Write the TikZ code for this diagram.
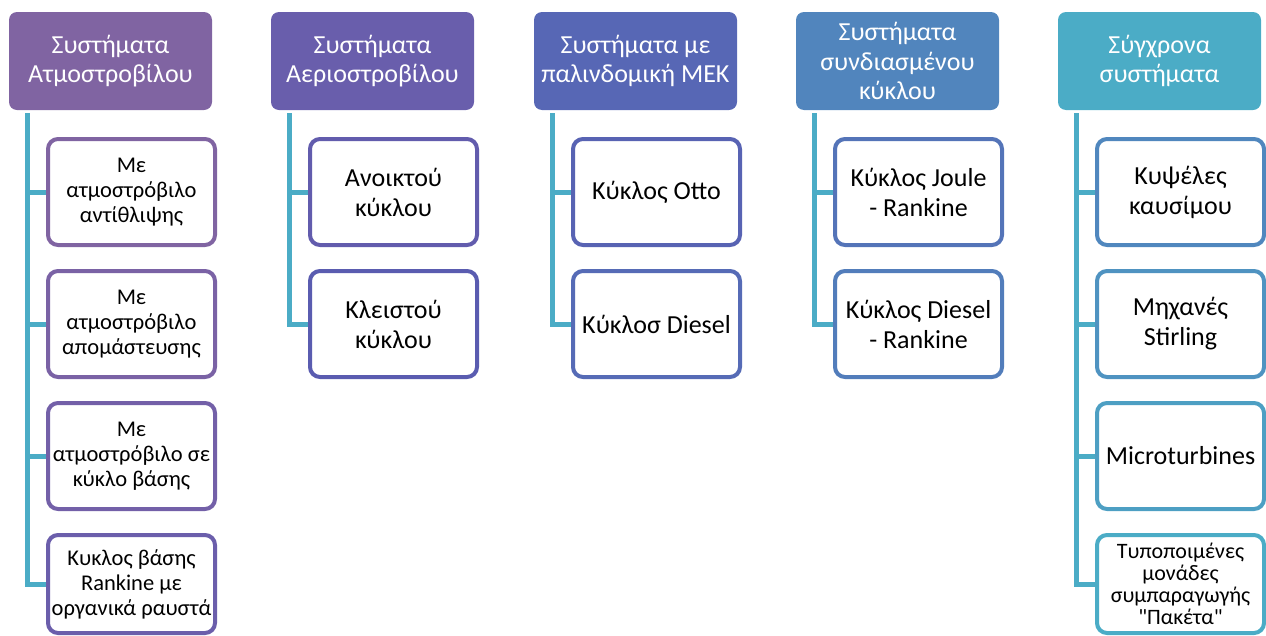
\documentclass[tikz,border=0pt]{standalone}
\usepackage{fontspec}
\setmainfont{Carlito}
\newfontfamily\plainfont{Carlito}[Ligatures=TeXOff]
\definecolor{h0}{HTML}{8064A2}
\definecolor{h1}{HTML}{695EAC}
\definecolor{h2}{HTML}{5767B5}
\definecolor{h3}{HTML}{5185BD}
\definecolor{h4}{HTML}{4BACC6}
\definecolor{k0}{HTML}{8064A2}
\definecolor{k1}{HTML}{7A62A5}
\definecolor{k2}{HTML}{7360A8}
\definecolor{k3}{HTML}{6B5EAB}
\definecolor{k4}{HTML}{625CAD}
\definecolor{k5}{HTML}{5A5CB0}
\definecolor{k6}{HTML}{5863B3}
\definecolor{k7}{HTML}{566BB6}
\definecolor{k8}{HTML}{5474B8}
\definecolor{k9}{HTML}{527DBB}
\definecolor{k10}{HTML}{5087BE}
\definecolor{k11}{HTML}{4F93C1}
\definecolor{k12}{HTML}{4D9FC3}
\definecolor{k13}{HTML}{4BACC6}
\definecolor{connc}{HTML}{4BACC6}
\tikzset{
  hdr/.style={fill=#1, draw=none, rounded corners=8pt, minimum width=203pt, minimum height=98pt,
    inner sep=0pt, align=center, text=white, font=\fontsize{26}{29.5}\selectfont},
  child/.style={fill=white, draw=#1, line width=4pt, rounded corners=10pt, minimum width=167pt,
    minimum height=106pt, inner sep=0pt, align=center, text=black, font=\fontsize{26}{30}\selectfont},
  small/.style={font=\fontsize{22.5}{25}\selectfont},
  tiny/.style={font=\fontsize{22}{22}\selectfont},
  lastchild/.style={minimum height=98pt},
  conn/.style={draw=connc, line width=5pt}
}
\begin{document}
\begin{tikzpicture}[x=1pt,y=-1pt]
\useasboundingbox (0,0) rectangle (1266,635);
% headers
\node[hdr=h0] (H1) at (110.5,61) {Συστήματα\\Ατμοστροβίλου};
\node[hdr=h1] (H2) at (372.5,61) {Συστήματα\\Αεριοστροβίλου};
\node[hdr=h2] (H3) at (635.5,61) {Συστήματα με\\παλινδομική ΜΕΚ};
\node[hdr=h3] (H4) at (897.5,61) {Συστήματα\\συνδιασμένου\\κύκλου};
\node[hdr=h4] (H5) at (1159.5,61) {Σύγχρονα\\συστήματα};
% column 1
\node[child=k0,small] (C11) at (131.5,192) {Με\\ατμοστρόβιλο\\αντίθλιψης};
\node[child=k1,small] (C12) at (131.5,324) {Με\\ατμοστρόβιλο\\απομάστευσης};
\node[child=k2,small] (C13) at (131.5,456) {Με\\ατμοστρόβιλο σε\\κύκλο βάσης};
\node[child=k3,small,lastchild] (C14) at (131.5,584) {Κυκλος βάσης\\Rankine με\\οργανικά ραυστά};
% column 2
\node[child=k4] (C21) at (393.5,192) {Ανοικτού\\κύκλου};
\node[child=k5] (C22) at (393.5,324) {Κλειστού\\κύκλου};
% column 3
\node[child=k6] (C31) at (656.5,192) {Κύκλος Otto};
\node[child=k7] (C32) at (656.5,324) {Κύκλοσ Diesel};
% column 4
\node[child=k8] (C41) at (918.5,192) {Κύκλος Joule\\- Rankine};
\node[child=k9] (C42) at (918.5,324) {Κύκλος Diesel\\- Rankine};
% column 5
\node[child=k10] (C51) at (1180.5,192) {Κυψέλες\\καυσίμου};
\node[child=k11] (C52) at (1180.5,324) {Μηχανές\\Stirling};
\node[child=k12] (C53) at (1180.5,456) {Microturbines};
\node[child=k13,tiny,lastchild] (C54) at (1180.5,584) {Τυποποιμένες\\μονάδες\\συμπαραγωγής\\{\plainfont "Πακέτα"}};
% connector starts
\coordinate (S1) at (27,113);
\coordinate (S2) at (289,113);
\coordinate (S3) at (552,113);
\coordinate (S4) at (814,113);
\coordinate (S5) at (1076,113);
\draw[conn] (S1) |- (C14.west);
\draw[conn] (S1 |- C11.west) -- (C11.west);
\draw[conn] (S1 |- C12.west) -- (C12.west);
\draw[conn] (S1 |- C13.west) -- (C13.west);
\draw[conn] (S2) |- (C22.west);
\draw[conn] (S2 |- C21.west) -- (C21.west);
\draw[conn] (S3) |- (C32.west);
\draw[conn] (S3 |- C31.west) -- (C31.west);
\draw[conn] (S4) |- (C42.west);
\draw[conn] (S4 |- C41.west) -- (C41.west);
\draw[conn] (S5) |- (C54.west);
\draw[conn] (S5 |- C51.west) -- (C51.west);
\draw[conn] (S5 |- C52.west) -- (C52.west);
\draw[conn] (S5 |- C53.west) -- (C53.west);
\end{tikzpicture}
\end{document}
